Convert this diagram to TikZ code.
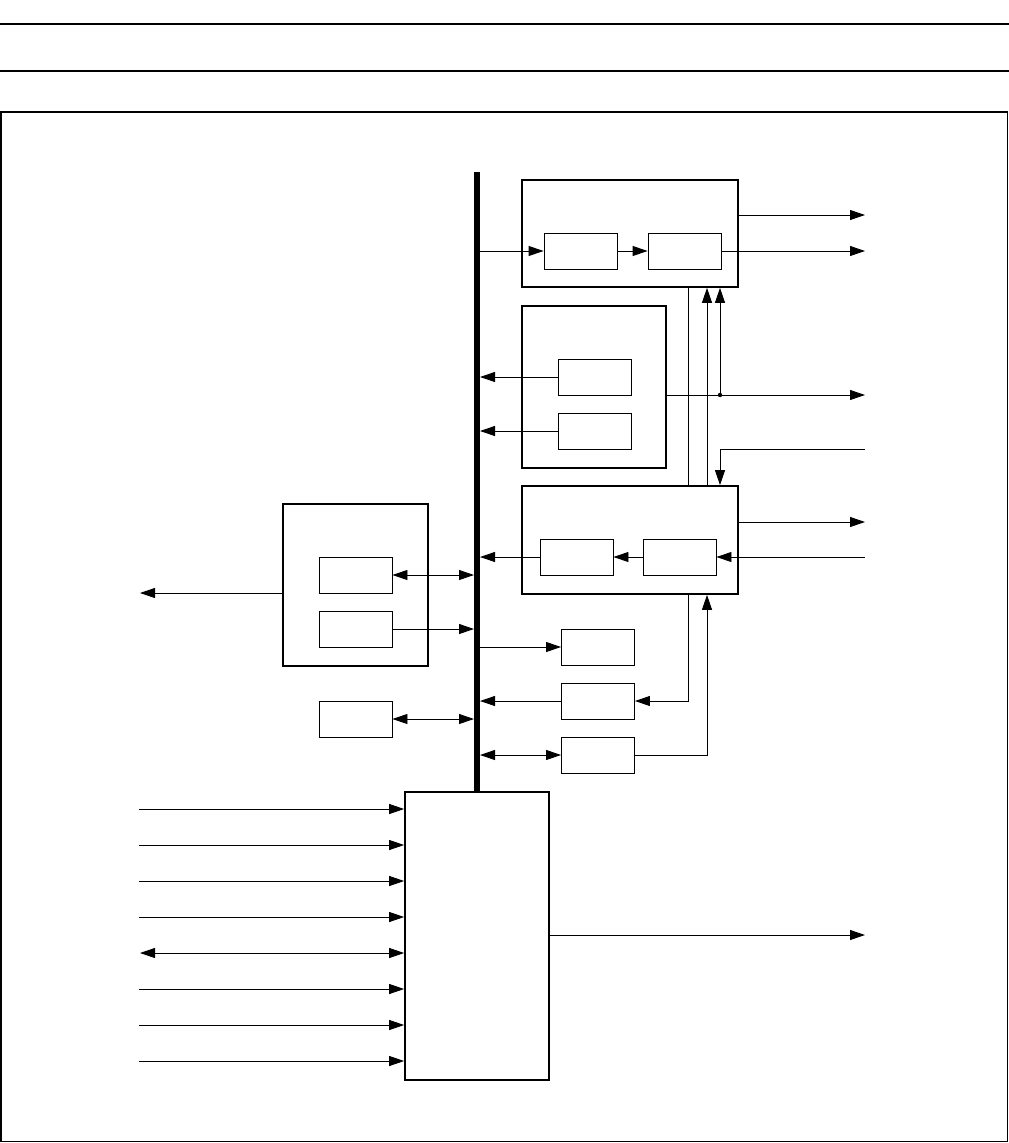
\documentclass[tikz,border=0pt]{standalone}
\usepackage{tikz}
\usetikzlibrary{arrows.meta,positioning}
\tikzset{
 outerbox/.style={
 rectangle,
 draw=black,
 line width=1.7pt,
 inner sep=0pt
 },
 unitbox/.style={
 rectangle,
 draw=black,
 line width=0.9pt,
 inner sep=0pt,
 minimum width=73pt,
 minimum height=36pt
 },
 sig/.style={-{Triangle[length=15pt,width=10pt]}, line width=0.9pt, draw=black},
 sigboth/.style={{Triangle[length=15pt,width=10pt]}-{Triangle[length=15pt,width=10pt]}, line width=0.9pt, draw=black},
 wire/.style={line width=0.9pt, draw=black},
 busline/.style={line width=6pt, draw=black}
}

\begin{document}
\begin{tikzpicture}[x=1pt,y=-1pt]
 \useasboundingbox (0,0) rectangle (1009,1143);
 % header rules and frame
 \draw[line width=2pt] (0,24) -- (1009,24);
 \draw[line width=2pt] (0,71) -- (1009,71);
 \draw[line width=1.5pt] (0.8,112) rectangle (1007.5,1141.5);

 % big blocks
 \node[outerbox, minimum width=216pt, minimum height=107pt] (tx) at (630,233.5) {};
 \node[outerbox, minimum width=144pt, minimum height=162pt] (st) at (594,387) {};
 \node[outerbox, minimum width=216pt, minimum height=108pt] (rx) at (630,540) {};
 \node[outerbox, minimum width=145pt, minimum height=162pt] (io) at (355.5,585) {};
 \node[outerbox, minimum width=144pt, minimum height=288pt] (ctl) at (477,936) {};

 % small blocks
 \node[unitbox] (txa) at (580.5,251) {};
 \node[unitbox] (txb) at (684.5,251) {};
 \node[unitbox] (sta) at (594.5,377) {};
 \node[unitbox] (stb) at (594.5,431) {};
 \node[unitbox] (rxa) at (576.5,557) {};
 \node[unitbox] (rxb) at (679.5,557) {};
 \node[unitbox] (ioa) at (355.5,575) {};
 \node[unitbox] (iob) at (355.5,629) {};
 \node[unitbox] (mem) at (355.5,719) {};
 \node[unitbox] (tma) at (598,647) {};
 \node[unitbox] (tmb) at (598,701) {};
 \node[unitbox] (tmc) at (598,755) {};

 % bus
 \coordinate (bustop) at (477,172);
 \coordinate (busL) at (474,0);
 \coordinate (busR) at (480,0);
 \draw[busline] (bustop) -- (ctl.north);

 % helper coordinates
 \coordinate (outR) at (865,0);
 \coordinate (outL) at (140,0);
 \coordinate (laneA) at (688,0);
 \coordinate (laneB) at (707,0);
 \coordinate (laneC) at (720,0);
 \coordinate (rowA) at (0,215);
 \coordinate (rowB) at (0,395);
 \coordinate (rowC) at (0,522);
 \coordinate (rowE) at (0,593);
 \coordinate (inC) at (865,449);
 \coordinate (inD) at (865,557);

 % transmit block
 \draw[sig] (txa.west -| busR) -- (txa.west);
 \draw[sig] (txa) -- (txb);
 \draw[sig] (txb.east) -- (txb.east -| outR);
 \draw[sig] (tx.east |- rowA) -- (outR |- rowA);

 % status block
 \draw[sig] (sta.west) -- (sta.west -| busR);
 \draw[sig] (stb.west) -- (stb.west -| busR);
 \coordinate (tap) at (laneC |- rowB);
 \draw[sig] (st.east |- rowB) -- (outR |- rowB);
 \draw[sig] (tap) -- (tx.south -| laneC);
 \fill (tap) circle (2.2pt);

 % lanes between blocks
 \draw[wire] (tx.south -| laneA) -- (rx.north -| laneA);
 \draw[sig] (rx.north -| laneB) -- (tx.south -| laneB);
 \draw[sig] (inC) -- (inC -| laneC) -- (rx.north -| laneC);

 % receive block
 \draw[sig] (inD) -- (rxb.east);
 \draw[sig] (rxb) -- (rxa);
 \draw[sig] (rxa.west) -- (rxa.west -| busR);
 \draw[sig] (rx.east |- rowC) -- (outR |- rowC);

 % timers
 \draw[sig] (tma.west -| busR) -- (tma.west);
 \draw[sig] (tmb.west) -- (tmb.west -| busR);
 \draw[sigboth] (tmc.west -| busR) -- (tmc.west);
 \draw[sig] (rx.south -| laneA) |- (tmb.east);
 \draw[sig] (tmc.east) -| (rx.south -| laneB);

 % io block
 \draw[sigboth] (ioa.east) -- (ioa.east -| busL);
 \draw[sig] (iob.east) -- (iob.east -| busL);
 \draw[sig] (io.west |- rowE) -- (outL |- rowE);
 \draw[sigboth] (mem.east) -- (mem.east -| busL);

 % control block
 \foreach \i/\yy in {1/809,2/845,3/881,4/917,6/989,7/1025,8/1061} {
  \coordinate (in\i) at (139,\yy);
  \draw[sig] (in\i) -- (in\i -| ctl.west);
 }
 \coordinate (in5) at (140,953);
 \draw[sigboth] (in5) -- (in5 -| ctl.west);
 \draw[sig] (ctl.east |- 0,935) -- (outR |- 0,935);
\end{tikzpicture}
\end{document}
